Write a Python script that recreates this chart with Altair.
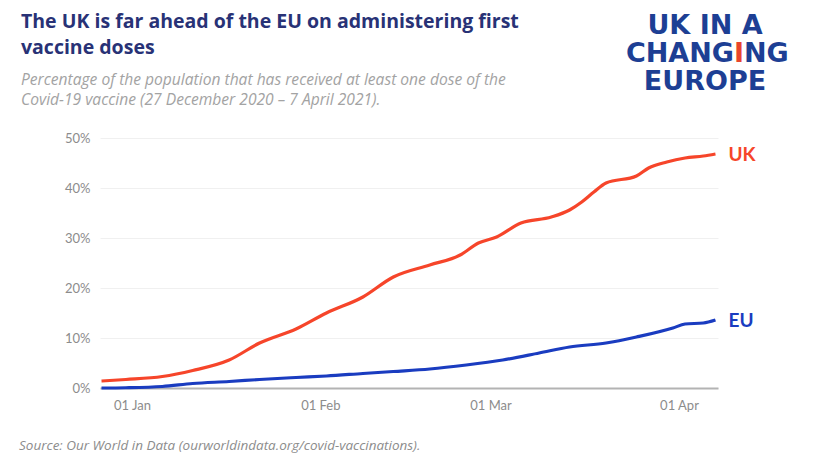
import altair as alt
import pandas as pd

# ---- data ----
uk_dates = ["2020-12-27", "2020-12-31", "2021-01-06", "2021-01-11", "2021-01-17",
            "2021-01-22", "2021-01-28", "2021-02-02", "2021-02-08", "2021-02-13",
            "2021-02-19", "2021-02-24", "2021-02-27", "2021-03-02", "2021-03-06",
            "2021-03-11", "2021-03-14", "2021-03-16", "2021-03-18", "2021-03-20",
            "2021-03-25", "2021-03-27", "2021-03-30", "2021-04-02", "2021-04-05",
            "2021-04-07"]
uk_values = [1.4, 1.7, 2.3, 3.5, 5.6,
             9.0, 11.8, 15.0, 18.2, 22.2,
             24.6, 26.6, 29.0, 30.2, 33.0,
             34.2, 35.6, 37.2, 39.2, 41.0,
             42.4, 44.0, 45.2, 46.0, 46.4,
             46.8]

eu_dates = ["2020-12-27", "2020-12-31", "2021-01-06", "2021-01-11", "2021-01-17",
            "2021-01-22", "2021-01-28", "2021-02-02", "2021-02-08", "2021-02-13",
            "2021-02-19", "2021-02-25", "2021-03-03", "2021-03-09", "2021-03-14",
            "2021-03-20", "2021-03-25", "2021-03-31", "2021-04-02", "2021-04-05",
            "2021-04-07"]
eu_values = [0.0, 0.05, 0.3, 0.9, 1.3,
             1.7, 2.1, 2.4, 2.9, 3.3,
             3.8, 4.6, 5.6, 7.0, 8.2,
             9.0, 10.2, 12.0, 12.8, 13.0,
             13.6]

series_names = ["UK", "EU"]
series_colors = ["#f6452a", "#1a3cc0"]
label_colors = ["#f05a3c", "#1f3c9c"]
y_ticks = [0, 10, 20, 30, 40, 50]

title_lines = ["The UK is far ahead of the EU on administering first", "vaccine doses"]
subtitle_lines = ["Percentage of the population that has received at least one dose of the",
                  "Covid-19 vaccine (27 December 2020 \u2013 7 April 2021)."]
source_text = "Source: Our World in Data (ourworldindata.org/covid-vaccinations)."
logo_rows = ["UK IN A", "CHANGING", "EUROPE"]

# ---- tables ----
df = pd.concat([
    pd.DataFrame({"date": uk_dates, "value": uk_values, "series": "UK"}),
    pd.DataFrame({"date": eu_dates, "value": eu_values, "series": "EU"}),
])
labels = pd.DataFrame({
    "date": [uk_dates[-1], eu_dates[-1]],
    "value": [uk_values[-1], eu_values[-1]],
    "series": series_names,
})

FONT = "Lato"
TFONT = "Open Sans"
W, H = 618, 250

x_scale = alt.Scale(
    type="utc",
    domain=[alt.DateTime(year=2020, month=12, date=26, hours=18, utc=True),
            alt.DateTime(year=2021, month=4, date=7, hours=10, utc=True)],
)
x_enc = alt.X(
    "date:T", scale=x_scale, title=None,
    axis=alt.Axis(
        values=[alt.DateTime(year=2021, month=m, date=1, utc=True) for m in (1, 2, 3, 4)],
        format="%d %b", ticks=False, grid=False, domainColor="#b3b3b3", domainWidth=2,
        labelColor="#8c8c8c", labelFont=FONT, labelFontSize=13, labelPadding=11,
    ),
)
y_enc = alt.Y(
    "value:Q", scale=alt.Scale(domain=[0, 50], nice=False), title=None,
    axis=alt.Axis(
        values=y_ticks, labelExpr="datum.value + '%'", ticks=False, domain=False,
        gridColor="#f0f0f0", gridWidth=1, labelColor="#8c8c8c", labelFont=FONT,
        labelFontSize=13, labelPadding=10,
    ),
)
color_enc = alt.Color("series:N", scale=alt.Scale(domain=series_names, range=series_colors), legend=None)

lines = alt.Chart(df).mark_line(strokeWidth=3.2, interpolate="monotone").encode(
    x=x_enc, y=y_enc, color=color_enc
)

end_labels = alt.Chart(labels).mark_text(
    align="left", baseline="middle", dx=13, dy=1, font=FONT, fontSize=19, fontWeight="bold"
).encode(
    x="date:T", y="value:Q", text="series:N",
    color=alt.Color("series:N", scale=alt.Scale(domain=series_names, range=label_colors), legend=None),
)


def txt(s, x, y, **kw):
    return alt.Chart(pd.DataFrame({"t": [0]})).mark_text(**kw).encode(
        text=alt.value(s), x=alt.value(x), y=alt.value(y)
    )


OX, OY = 100, 138  # page position of plot origin

title_kw = dict(align="left", baseline="alphabetic", font=TFONT, fontSize=19.5, fontWeight="bold",
                color="#283276", lineHeight=26)
sub_kw = dict(align="left", baseline="alphabetic", font=TFONT, fontSize=15.6, fontStyle="italic",
              color="#a3a3a3", lineHeight=20)

texts = [
    txt(title_lines, 21 - OX, 28 - OY, **title_kw),
    txt(subtitle_lines, 21 - OX, 84.5 - OY, **sub_kw),
    txt(source_text, 19 - OX, 450 - OY, align="left", baseline="alphabetic", font=TFONT,
        fontSize=13.5, fontStyle="italic", color="#8c8c8c"),
]

logo_kw = dict(baseline="alphabetic", font="DejaVu Sans", fontSize=27, fontWeight="bold")
LOGO_BLUE = "#1d3f94"
LOGO_RED = "#e8452c"
cx = 705 - OX
split = 734 - OX  # page x where the red "I" begins
i_width = 10.0
texts += [
    txt(logo_rows[0], cx, 34 - OY, align="center", color=LOGO_BLUE, **logo_kw),
    txt(logo_rows[1][:5], split, 62 - OY, align="right", color=LOGO_BLUE, **logo_kw),
    txt(logo_rows[1][5], split, 62 - OY, align="left", color=LOGO_RED, **logo_kw),
    txt(logo_rows[1][6:], split + i_width, 62 - OY, align="left", color=LOGO_BLUE, **logo_kw),
    txt(logo_rows[2], cx, 90 - OY, align="center", color=LOGO_BLUE, **logo_kw),
]

chart = alt.layer(lines, end_labels, *texts).properties(
    width=W, height=H,
    autosize=alt.AutoSizeParams(type="none"),
    padding={"left": 92, "top": 130, "right": 106, "bottom": 74},
    background="white",
).configure_view(stroke=None)

chart.save("out.html", embed_options={"renderer": "svg", "actions": False})
